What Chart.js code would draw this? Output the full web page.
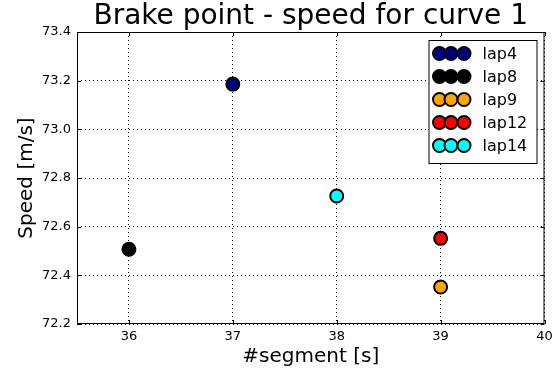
<!doctype html>
<html lang="en">
<head>
<meta charset="utf-8">
<title>Brake point - speed for curve 1</title>
<style>
  html, body { margin: 0; padding: 0; background: #fff; }
  .wrap { width: 553px; height: 374px; position: relative; }
</style>
</head>
<body>
<div class="wrap"><canvas id="chart"></canvas></div>
<script src="https://cdn.jsdelivr.net/npm/chart.js@4.4.4/dist/chart.umd.min.js"></script>
<script>
// Values.
const laps = ["lap4", "lap8", "lap9", "lap12", "lap14"];
const segments = [37, 36, 39, 39, 38];
const speeds = [73.186, 72.507, 72.352, 72.552, 72.726];
const colors = ["#000080", "#000000", "#ffa500", "#ff0000", "#00ffff"];
const xTicks = [36, 37, 38, 39, 40];
const yTicks = [72.2, 72.4, 72.6, 72.8, 73.0, 73.2, 73.4];

const FONT = "'DejaVu Sans', sans-serif";

const datasets = laps.map((lap, i) => ({
  label: lap,
  data: [{ x: segments[i], y: speeds[i] }],
  backgroundColor: colors[i],
  borderColor: "#000",
  borderWidth: 2,
  pointRadius: 6.5,
  pointHoverRadius: 6.5,
}));

// matplotlib-style frame, inward ticks and the 3-marker legend
const framePlugin = {
  id: "frame",
  afterDraw(chart) {
    const { ctx, chartArea: a, scales } = chart;
    ctx.save();
    ctx.strokeStyle = "#000";
    ctx.lineWidth = 1;
    ctx.setLineDash([]);
    ctx.strokeRect(a.left + 0.5, a.top + 0.5, a.right - a.left - 1, a.bottom - a.top - 1);
    ctx.beginPath();
    for (const v of xTicks) {
      const px = Math.round(scales.x.getPixelForValue(v)) + 0.5;
      ctx.moveTo(px, a.bottom); ctx.lineTo(px, a.bottom - 4);
      ctx.moveTo(px, a.top); ctx.lineTo(px, a.top + 4);
    }
    for (const v of yTicks) {
      const py = Math.round(scales.y.getPixelForValue(v)) + 0.5;
      ctx.moveTo(a.left, py); ctx.lineTo(a.left + 4, py);
      ctx.moveTo(a.right, py); ctx.lineTo(a.right - 4, py);
    }
    ctx.stroke();

    // legend box
    const bw = 108, bh = 123;
    const bx = a.right - 8 - bw, by = a.top + 8;
    ctx.fillStyle = "#fff";
    ctx.fillRect(bx, by, bw, bh);
    ctx.strokeRect(bx + 0.5, by + 0.5, bw, bh);
    ctx.font = "16px " + FONT;
    ctx.textBaseline = "middle";
    laps.forEach((lap, i) => {
      const cy = by + 13.5 + i * 23;
      for (const dx of [11, 22.5, 35.5]) {
        ctx.beginPath();
        ctx.arc(bx + dx, cy, 6.5, 0, Math.PI * 2);
        ctx.fillStyle = colors[i];
        ctx.fill();
        ctx.lineWidth = 2;
        ctx.stroke();
      }
      ctx.fillStyle = "#000";
      ctx.fillText(lap, bx + 54, cy + 1);
    });
    ctx.restore();
  },
};

new Chart(document.getElementById("chart"), {
  type: "scatter",
  data: { datasets },
  plugins: [framePlugin],
  options: {
    responsive: true,
    maintainAspectRatio: false,
    animation: false,
    layout: { padding: { left: 0, right: 7, top: 0, bottom: 0 } },
    plugins: {
      legend: { display: false },
      tooltip: { enabled: false },
      title: {
        display: true,
        text: "Brake point - speed for curve 1",
        fullSize: false,
        color: "#000",
        font: { family: FONT, size: 28, weight: "normal", lineHeight: 1 },
        padding: { top: 3, bottom: 1 },
      },
    },
    scales: {
      x: {
        type: "linear",
        min: 35.5,
        max: 40,
        afterBuildTicks: (s) => { s.ticks = xTicks.map((v) => ({ value: v })); },
        afterFit: (s) => { s.height = 50; s.paddingRight = 0; s.paddingLeft = 0; },
        grid: { color: "#000", lineWidth: 1, drawTicks: false },
        border: { display: false, dash: [1, 3] },
        ticks: {
          color: "#000",
          font: { family: FONT, size: 13 },
          padding: 5,
          maxRotation: 0,
          callback: (v) => String(v),
        },
        title: {
          display: true,
          text: "#segment [s]",
          color: "#000",
          font: { family: FONT, size: 20 },
          padding: { top: 2, bottom: 5 },
        },
      },
      y: {
        type: "linear",
        min: 72.2,
        max: 73.4,
        afterBuildTicks: (s) => { s.ticks = yTicks.map((v) => ({ value: v })); },
        afterFit: (s) => { s.width = 77; },
        grid: { color: "#000", lineWidth: 1, drawTicks: false },
        border: { display: false, dash: [1, 3] },
        ticks: {
          color: "#000",
          font: { family: FONT, size: 13 },
          padding: 6,
          callback: (v) => Number(v).toFixed(1),
        },
        title: {
          display: true,
          text: "Speed [m/s]",
          color: "#000",
          font: { family: FONT, size: 20 },
          padding: { top: 15, bottom: 0 },
        },
      },
    },
  },
});
</script>
</body>
</html>
